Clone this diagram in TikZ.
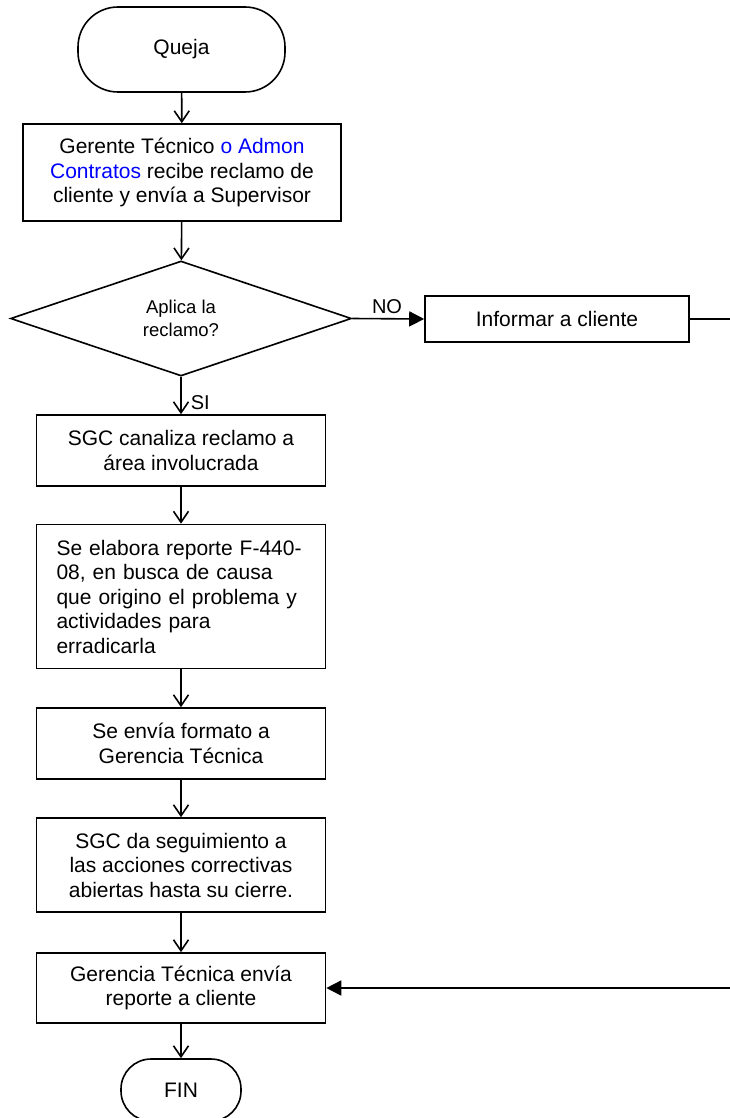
\documentclass[tikz,border=0pt]{standalone}
\usepackage{fontspec}
\setmainfont{Liberation Sans}
\usepackage{tikz}
\usetikzlibrary{shapes.geometric}
\usetikzlibrary{arrows.meta}

\begin{document}
\begin{tikzpicture}[x=1pt,y=-1pt,line width=1.6pt,
    caja/.style={draw,rectangle,inner sep=0pt,align=center,font=\fontsize{21}{24.5}\selectfont},
    terminal/.style={caja,rounded corners=40pt},
    decision/.style={draw,diamond,inner sep=0pt,align=center,font=\fontsize{18.5}{23.5}\selectfont},
    flecha/.style={-{Straight Barb[length=11pt,width=15pt,line width=1.6pt]}},
    flechallena/.style={-{Triangle[length=15pt,width=15pt]}},
    etiqueta/.style={inner sep=0pt,font=\fontsize{20}{24}\selectfont}]
    \useasboundingbox (0,0) rectangle (730,1118);

    % pasos del proceso
    \node[terminal,minimum width=207pt,minimum height=85pt] (queja) at (181.5,49.5) {Queja};
    \node[caja,minimum width=318pt,minimum height=97pt] (recibe) at (182,172.5)
        {Gerente Técnico \textcolor{blue}{o Admon}\\ \textcolor{blue}{Contratos} recibe reclamo de\\ cliente y envía a Supervisor};
    \node[decision,minimum width=341pt,minimum height=115pt] (aplica) at (181,318.5) {Aplica la\\ reclamo?};
    \node[caja,minimum width=264pt,minimum height=46pt] (informar) at (557,319) {Informar a cliente};
    \node[caja,minimum width=289pt,minimum height=71pt] (canaliza) at (181,450.5)
        {SGC canaliza reclamo a\\ área involucrada};
    \node[caja,text width=249pt,inner xsep=20pt,align=left,minimum height=144pt] (elabora) at (181,596.5)
        {Se elabora reporte F-440-\\ 08, en busca de causa\\ que origino el problema y\\ actividades para\\ erradicarla};
    \node[caja,minimum width=289pt,minimum height=71pt] (formato) at (181,743.5)
        {Se envía formato a\\ Gerencia Técnica};
    \node[caja,minimum width=289pt,minimum height=94pt] (seguimiento) at (181,865)
        {SGC da seguimiento a\\ las acciones correctivas\\ abiertas hasta su cierre.};
    \node[caja,minimum width=289pt,minimum height=70pt] (gerencia) at (181,988)
        {Gerencia Técnica envía\\ reporte a cliente};
    \node[terminal,rounded corners=30pt,minimum width=120pt,minimum height=62pt] (fin) at (181,1090) {FIN};

    \coordinate (derA) at (730,319);
    \coordinate (derB) at (730,988);

    % conectores
    \draw[flecha] (queja) -- (recibe);
    \draw[flecha] (recibe) -- (aplica);
    \draw[flechallena] (aplica.east) -- (informar.west);
    \node[etiqueta] (no) at (387,307) {NO};
    \draw (informar.east) -- (derA);
    \draw[flecha] (aplica.south) -- (canaliza.north);
    \node[etiqueta,anchor=west] (si) at (190,403) {SI};
    \draw[flecha] (canaliza) -- (elabora);
    \draw[flecha] (elabora) -- (formato);
    \draw[flecha] (formato) -- (seguimiento);
    \draw[flecha] (seguimiento) -- (gerencia);
    \draw[flecha] (gerencia) -- (fin);
    \draw[flechallena] (derB) -- (gerencia.east);
\end{tikzpicture}
\end{document}
